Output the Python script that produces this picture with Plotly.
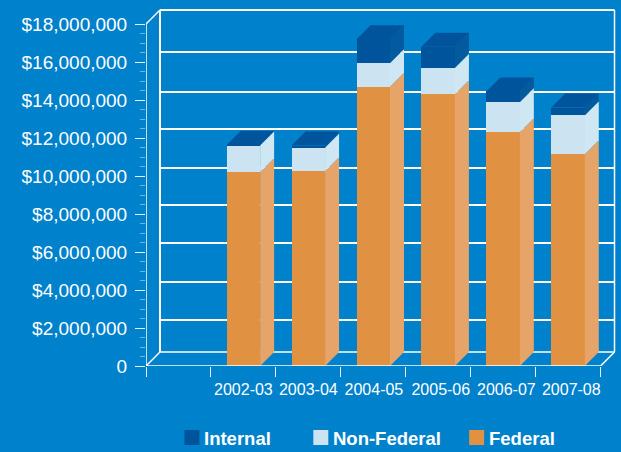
import plotly.graph_objects as go

# ---- data ----
years = ["2002-03", "2003-04", "2004-05", "2005-06", "2006-07", "2007-08"]
federal = [10200000, 10250000, 14700000, 14300000, 12300000, 11150000]
non_federal = [1400000, 1250000, 1250000, 1400000, 1600000, 2050000]
internal = [30000, 100000, 1250000, 1100000, 550000, 400000]
y_ticks = [0, 2000000, 4000000, 6000000, 8000000, 10000000, 12000000, 14000000, 16000000, 18000000]
y_labels = ["0", "$2,000,000", "$4,000,000", "$6,000,000", "$8,000,000", "$10,000,000",
            "$12,000,000", "$14,000,000", "$16,000,000", "$18,000,000"]
y_minor = [v * 500000 for v in range(1, 36) if v % 4]
# the printed back wall lines do not sit at a regular offset from the axis ticks
wall_lines = [2420000, 4420000, 6470000, 8470000, 10420000, 12470000, 14420000, 16530000]
# the printed year labels drift slightly to the right of their bars
label_nudge = [0.0, 0.0, 0.01, 0.04, 0.05, 0.05]

BLUE = "#0081CC"
C_FED, C_FED_SIDE = "#E09242", "#E6A468"
C_NON, C_NON_SIDE = "#CCE4F2", "#CFE6F3"
C_INT, C_INT_SIDE = "#00549B", "#035A9F"

# ---- geometry ----
W, H = 621, 452
L, FLOOR, TOP = 145.5, 366, 5
PX_X = 65.0            # pixels per category
PX_Y = 19.0 / 1e6      # pixels per dollar
DX = 14 / PX_X         # depth of the 3-D effect in x units
DY = 14 / PX_Y         # depth of the 3-D effect in y units
BAR = 33.5 / PX_X
x_lo, x_hi = -0.5, -0.5 + (W - L) / PX_X
y_hi = (FLOOR - TOP) / PX_Y
x_right = 6.5
y_top = 18000000
xs = list(range(1, 7))

fig = go.Figure()

# front faces
stack = [("Federal", federal, C_FED), ("Non-Federal", non_federal, C_NON), ("Internal", internal, C_INT)]
for name, vals, col in stack:
    fig.add_trace(go.Bar(x=xs, y=vals, name=name, width=BAR, marker=dict(color=col, line=dict(width=0)),
                         showlegend=False))


def poly(px, py, color):
    fig.add_trace(go.Scatter(x=px, y=py, mode="lines", fill="toself", fillcolor=color,
                             line=dict(width=0, color=color), hoverinfo="skip", showlegend=False))


# side and top faces
for i, x in enumerate(xs):
    r = x + BAR / 2
    l = x - BAR / 2
    b0 = 0
    for (name, vals, col), side in zip(stack, (C_FED_SIDE, C_NON_SIDE, C_INT_SIDE)):
        b1 = b0 + vals[i]
        poly([r, r + DX, r + DX, r, r], [b0, b0 + DY, b1 + DY, b1, b0], side)
        b0 = b1
    poly([l, l + DX, r + DX, r, l], [b0, b0 + DY, b0 + DY, b0, b0], C_INT)


def wall(x0, y0, x1, y1, w=2):
    return dict(type="line", xref="x", yref="y", x0=x0, y0=y0, x1=x1, y1=y1, layer="below",
                line=dict(color="white", width=w))


shapes = []
# back wall lines
for v in wall_lines:
    shapes.append(wall(x_lo + DX, v, x_right + DX, v))
shapes.append(wall(x_lo + DX, y_top + DY, x_right + DX, y_top + DY))
shapes.append(wall(x_lo + DX, DY, x_right + DX, DY, 1.5))
shapes.append(wall(x_lo + DX, DY, x_lo + DX, y_top + DY))
shapes.append(wall(x_right + DX, DY, x_right + DX, y_top + DY, 1.5))
shapes.append(wall(x_lo, 0, x_lo + DX, DY, 1.5))
shapes.append(wall(x_right, 0, x_right + DX, DY, 1.5))
shapes.append(wall(x_lo, y_top, x_lo + DX, y_top + DY, 1.5))

# legend
legend = [("Internal", C_INT, 184), ("Non-Federal", C_NON, 313), ("Federal", C_FED, 469)]
annotations = []
for name, col, px in legend:
    shapes.append(dict(type="rect", xref="paper", yref="paper",
                       x0=(px - L) / (W - L), x1=(px + 15 - L) / (W - L),
                       y0=-(445 - FLOOR) / (FLOOR - TOP), y1=-(430 - FLOOR) / (FLOOR - TOP),
                       fillcolor=col, line=dict(width=0)))
    annotations.append(dict(xref="paper", yref="paper", x=(px + 19 - L) / (W - L),
                            y=-(438 - FLOOR) / (FLOOR - TOP), xanchor="left", yanchor="middle",
                            text="<b>%s</b>" % name, showarrow=False, borderpad=0,
                            font=dict(family="Liberation Sans", size=18.5, color="white")))

# front edges of the frame
fig.add_trace(go.Scatter(x=[x_lo, x_lo, None, x_lo, x_right], y=[y_top, 0, None, 0, 0], mode="lines",
                         line=dict(color="white", width=1.5), cliponaxis=False, hoverinfo="skip",
                         showlegend=False))

fig.update_layout(
    width=W, height=H, autosize=False, barmode="stack", bargap=0,
    paper_bgcolor=BLUE, plot_bgcolor=BLUE, showlegend=False,
    margin=dict(l=L, r=0, t=TOP, b=H - FLOOR, pad=0),
    font=dict(family="Liberation Sans", color="white"),
    shapes=shapes, annotations=annotations,
    xaxis=dict(range=[x_lo, x_hi], showgrid=False, zeroline=False, showline=False,
               tickmode="array", tickvals=[x + n for x, n in zip(xs, label_nudge)], ticktext=years,
               ticks="", ticklen=0,
               tickfont=dict(size=16, color="white"), ticklabelstandoff=12,
               minor=dict(tickmode="array", tickvals=[k + 0.5 for k in range(-1, 7)], ticks="outside",
                          ticklen=10, tickwidth=1, tickcolor="#E6F3FB", showgrid=False)),
    yaxis=dict(range=[0, y_hi], showgrid=False, zeroline=False, showline=False,
               tickmode="array", tickvals=y_ticks, ticktext=y_labels, ticks="outside", ticklen=10,
               tickwidth=1, tickcolor="#E6F3FB", tickfont=dict(size=19, color="white"),
               ticklabelstandoff=4,
               minor=dict(tickmode="array", tickvals=y_minor, ticks="outside", ticklen=5, tickwidth=1,
                          tickcolor="#6DB5E2", showgrid=False)),
)

fig.write_html("out.html", config=dict(displayModeBar=False),
               post_script="document.body.style.margin='0';document.documentElement.style.background='%s';" % BLUE)
